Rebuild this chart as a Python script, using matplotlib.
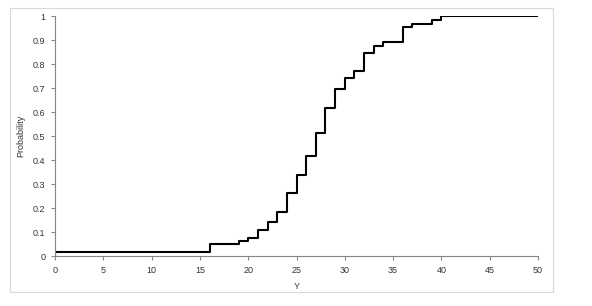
import matplotlib.pyplot as plt
import matplotlib.patches as patches

# breakpoints of the empirical CDF and probability after each step
y_vals = [0, 16, 19, 20, 21, 22, 23, 24, 25, 26, 27, 28, 29, 30, 31, 32, 33, 34, 36, 37, 39, 40, 50]
prob = [0.015, 0.048, 0.063, 0.075, 0.108, 0.14, 0.185, 0.262, 0.338, 0.418, 0.512, 0.615, 0.695,
        0.742, 0.77, 0.845, 0.875, 0.89, 0.955, 0.968, 0.985, 1.0, 1.0]

plt.rcParams['font.family'] = ['Liberation Sans', 'DejaVu Sans']

fig = plt.figure(figsize=(5.92, 3.06), dpi=100)
ax = fig.add_axes([55 / 592, 50 / 306, 483 / 592, 240 / 306])

# chart area border like the spreadsheet original
fig.patches.append(patches.Rectangle((10 / 592, 14 / 306), 543 / 592, 284 / 306,
                                     transform=fig.transFigure, fill=False,
                                     edgecolor='#d9d9d9', linewidth=0.8))

ax.step([0] + y_vals, [0] + prob, where='post', color='black', linewidth=1.5)

ax.set_xlim(0, 50)
ax.set_ylim(0, 1)
ax.set_xticks(range(0, 51, 5))
ax.set_yticks([0, 0.1, 0.2, 0.3, 0.4, 0.5, 0.6, 0.7, 0.8, 0.9, 1])
ax.set_yticklabels(['0', '0.1', '0.2', '0.3', '0.4', '0.5', '0.6', '0.7', '0.8', '0.9', '1'])

for s in ['top', 'right']:
    ax.spines[s].set_visible(False)
for s in ['left', 'bottom']:
    ax.spines[s].set_color('#868686')
    ax.spines[s].set_linewidth(0.8)

ax.tick_params(axis='both', direction='out', length=3, width=0.8, color='#868686',
               labelsize=6.5, labelcolor='#333333', pad=4)

ax.set_xlabel('Y', fontsize=6.5, color='#333333', labelpad=5)
ax.set_ylabel('Probability', fontsize=6.5, color='#333333', labelpad=5)

plt.savefig('out.png', dpi=100)
